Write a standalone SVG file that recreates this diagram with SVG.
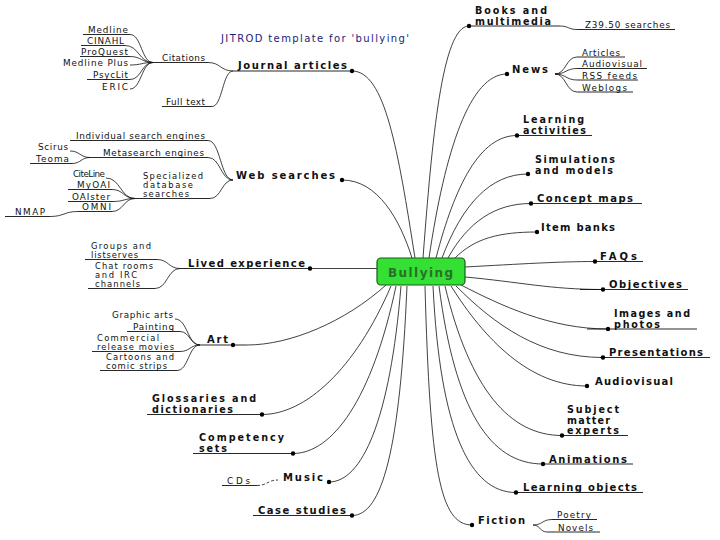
<svg xmlns="http://www.w3.org/2000/svg" width="720" height="540" viewBox="0 0 720 540">
<style>
.b{font-family:"DejaVu Sans","Liberation Sans",sans-serif;font-weight:bold;font-size:10px;fill:#111}
.m{font-family:"DejaVu Sans","Liberation Sans",sans-serif;font-weight:bold;font-size:9.6px;fill:#111}
.s{font-family:"DejaVu Sans","Liberation Sans",sans-serif;font-size:8.8px;fill:#111}
.n{font-family:"DejaVu Sans","Liberation Sans",sans-serif;font-size:8.4px;fill:#111}
.t{font-family:"DejaVu Sans","Liberation Sans",sans-serif;font-size:10px;fill:#22227a}
.u{stroke:#111;stroke-width:0.9;fill:none}
.c{stroke:#111;stroke-width:0.8;fill:none}
.d{fill:#000}
</style>
<rect width="720" height="540" fill="#fff"/>
<text class="t" x="221" y="42" textLength="188" lengthAdjust="spacing">JITROD template for 'bullying'</text>

<g id="connectors">
<path class="c" d="M415,258 C398,150 385,71 352,71"/>
<path class="c" d="M412,258 C400,220 378,180 342,180"/>
<path class="c" d="M423,258 C432,140 442,26 469,26"/>
<path class="c" d="M429,258 C445,150 470,74 507,74"/>
<path class="c" d="M436,258 C455,185 480,135.5 517,135.5"/>
<path class="c" d="M442,258 C462,205 490,174 528,174"/>
<path class="c" d="M448,258 C468,222 495,203.5 531,203.5"/>
<path class="c" d="M455,258 C475,238 500,232 537,232"/>
<path class="c" d="M465,267 C520,264 560,261.5 595,261.5"/>
<path class="c" d="M465,277 C520,282 550,289.5 603,289.5"/>
<path class="c" d="M461,285 C500,305 550,329 608,329"/>
<path class="c" d="M456,286 C495,325 540,357.5 603,357.5"/>
<path class="c" d="M451,286 C485,340 530,386 587,386"/>
<path class="c" d="M445,286 C470,390 510,435.5 562,435.5"/>
<path class="c" d="M439,286 C455,410 490,464 543,464"/>
<path class="c" d="M433,286 C440,430 470,492.5 516,492.5"/>
<path class="c" d="M425,286 C430,470 440,525 472,525"/>
<path class="c" d="M407,286 C400,450 382,515.5 352,515.5"/>
<path class="c" d="M401,286 C390,420 362,482 329,482"/>
<path class="c" d="M396,286 C372,400 332,453.5 293,453.5"/>
<path class="c" d="M391,286 C355,370 305,414.5 262,414.5"/>
<path class="c" d="M386,285 C345,322 290,345 247,345"/>
<path class="c" d="M310,268.5 L377,268.5"/>
<path class="c" d="M130,34.5 C141.5,34.5 141.5,62.5 153,62.5"/>
<path class="c" d="M125,45.5 C139,45.5 139,62.5 153,62.5"/>
<path class="c" d="M130,56.5 C141.5,56.5 141.5,62.5 153,62.5"/>
<path class="c" d="M130,65 C141.5,65 141.5,62.5 153,62.5"/>
<path class="c" d="M130,79.5 C141.5,79.5 141.5,62.5 153,62.5"/>
<path class="c" d="M130,89 C141.5,89 141.5,62.5 153,62.5"/>
<path class="c" d="M208,62.5 C220.5,62.5 220.5,71 233,71"/>
<path class="c" d="M212,106.5 C222.5,106.5 222.5,71 233,71"/>
<path class="c" d="M208,140.5 C220.5,140.5 220.5,180 233,180"/>
<path class="c" d="M208,157.5 C220.5,157.5 220.5,180 233,180"/>
<path class="c" d="M210,198.5 C221.5,198.5 221.5,180 233,180"/>
<path class="c" d="M70,151 C80,151 80,157.5 90,157.5"/>
<path class="c" d="M72,163.5 C81,163.5 81,157.5 90,157.5"/>
<path class="c" d="M106,178 C120.5,178 120.5,198.5 135,198.5"/>
<path class="c" d="M112,189.5 C123.5,189.5 123.5,198.5 135,198.5"/>
<path class="c" d="M113,201.5 C124,201.5 124,198.5 135,198.5"/>
<path class="c" d="M112,211.5 C123.5,211.5 123.5,198.5 135,198.5"/>
<path class="c" d="M50,216.5 C64,216.5 64,211.5 78,211.5"/>
<path class="c" d="M157,259.5 C168.5,259.5 168.5,268.5 180,268.5"/>
<path class="c" d="M155,288.5 C167.5,288.5 167.5,268.5 180,268.5"/>
<path class="c" d="M175,319 C187.5,319 187.5,345 200,345"/>
<path class="c" d="M180,331.5 C190,331.5 190,345 200,345"/>
<path class="c" d="M180,351.5 C190,351.5 190,345 200,345"/>
<path class="c" d="M177,370.5 C188.5,370.5 188.5,345 200,345"/>
<path class="c" d="M257,485.5 C267.5,485.5 267.5,480 278,480" stroke-dasharray="3,2"/>
<path class="c" d="M560,26 C568.5,26 568.5,29.5 577,29.5"/>
<path class="c" d="M555,74 C566,74 566,57 577,57"/>
<path class="c" d="M555,74 C566,74 566,68.5 577,68.5"/>
<path class="c" d="M555,74 C566,74 566,80 577,80"/>
<path class="c" d="M555,74 C566,74 566,92 577,92"/>
<path class="c" d="M533,525 C542.5,525 542.5,519.5 552,519.5"/>
<path class="c" d="M533,525 C540,525 540,532 547,532"/>
</g>

<g id="bullying">
<rect x="377" y="258" width="88" height="27" rx="4" fill="#33e033" stroke="#1c5a1c" stroke-width="1.2"/>
<text x="388" y="276.5" textLength="65" lengthAdjust="spacing" style="font-family:'DejaVu Sans','Liberation Sans',sans-serif;font-weight:bold;font-size:12px;fill:#2a6f2a">Bullying</text>
</g>

<g id="journal-articles">
<line class="u" x1="233" y1="71" x2="352" y2="71"/><circle class="d" cx="352" cy="71" r="2.2"/>
<text class="b" x="238" y="69" textLength="109" lengthAdjust="spacing">Journal articles</text>
</g>
<g id="citations">
<line class="u" x1="153" y1="62.5" x2="208" y2="62.5"/>
<text class="s" x="162" y="61" textLength="43" lengthAdjust="spacing">Citations</text>
</g>
<g id="full-text">
<line class="u" x1="162" y1="106.5" x2="212" y2="106.5"/>
<text class="s" x="166" y="105" textLength="39" lengthAdjust="spacing">Full text</text>
</g>
<g id="medline"><line class="u" x1="83" y1="34.5" x2="130" y2="34.5"/><text class="s" x="88" y="33" textLength="40" lengthAdjust="spacing">Medline</text></g>
<g id="cinahl"><line class="u" x1="81" y1="45.5" x2="125" y2="45.5"/><text class="s" x="87" y="44" textLength="37" lengthAdjust="spacing">CINAHL</text></g>
<g id="proquest"><line class="u" x1="80" y1="56.5" x2="130" y2="56.5"/><text class="s" x="81" y="55" textLength="47" lengthAdjust="spacing">ProQuest</text></g>
<g id="medline-plus"><text class="s" x="63" y="66" textLength="65" lengthAdjust="spacing">Medline Plus</text></g>
<g id="psyclit"><line class="u" x1="87" y1="79.5" x2="130" y2="79.5"/><text class="s" x="93" y="78" textLength="35" lengthAdjust="spacing">PsycLit</text></g>
<g id="eric"><text class="s" x="102" y="90" textLength="26" lengthAdjust="spacing">ERIC</text></g>

<g id="web-searches">
<circle class="d" cx="342" cy="180" r="2.2"/>
<text class="b" x="236" y="179" textLength="99" lengthAdjust="spacing">Web searches</text>
</g>
<g id="individual"><line class="u" x1="70" y1="140.5" x2="208" y2="140.5"/><text class="s" x="76" y="139" textLength="129" lengthAdjust="spacing">Individual search engines</text></g>
<g id="metasearch"><line class="u" x1="90" y1="157.5" x2="208" y2="157.5"/><text class="s" x="103" y="156" textLength="101" lengthAdjust="spacing">Metasearch engines</text></g>
<g id="scirus"><text class="s" x="38" y="150" textLength="30" lengthAdjust="spacing">Scirus</text></g>
<g id="teoma"><line class="u" x1="30" y1="163.5" x2="72" y2="163.5"/><text class="s" x="36" y="162" textLength="33" lengthAdjust="spacing">Teoma</text></g>
<g id="specialized">
<line class="u" x1="135" y1="198.5" x2="210" y2="198.5"/>
<text class="n" x="143" y="178.5" textLength="60" lengthAdjust="spacing">Specialized</text>
<text class="n" x="143" y="187.5" textLength="50" lengthAdjust="spacing">database</text>
<text class="n" x="143" y="196.5" textLength="46" lengthAdjust="spacing">searches</text>
</g>
<g id="citeline"><text class="s" x="73" y="177" textLength="32" lengthAdjust="spacing">CiteLine</text></g>
<g id="myoai"><line class="u" x1="68" y1="189.5" x2="112" y2="189.5"/><text class="s" x="77" y="188" textLength="33" lengthAdjust="spacing">MyOAI</text></g>
<g id="oaister"><line class="u" x1="68" y1="201.5" x2="113" y2="201.5"/><text class="s" x="72" y="200" textLength="38" lengthAdjust="spacing">OAIster</text></g>
<g id="omni"><line class="u" x1="78" y1="211.5" x2="112" y2="211.5"/><text class="s" x="82" y="210" textLength="29" lengthAdjust="spacing">OMNI</text></g>
<g id="nmap"><line class="u" x1="5" y1="216.5" x2="50" y2="216.5"/><text class="s" x="15" y="215" textLength="30" lengthAdjust="spacing">NMAP</text></g>

<g id="lived-experience">
<line class="u" x1="180" y1="268.5" x2="310" y2="268.5"/><circle class="d" cx="310" cy="268.5" r="2.2"/>
<text class="b" x="188" y="267" textLength="117" lengthAdjust="spacing">Lived experience</text>
</g>
<g id="groups"><line class="u" x1="85" y1="259.5" x2="157" y2="259.5"/>
<text class="n" x="91" y="249" textLength="60" lengthAdjust="spacing">Groups and</text>
<text class="n" x="91" y="258" textLength="47" lengthAdjust="spacing">listserves</text></g>
<g id="chat"><line class="u" x1="88" y1="288.5" x2="155" y2="288.5"/>
<text class="n" x="95" y="269" textLength="58" lengthAdjust="spacing">Chat rooms</text>
<text class="n" x="95" y="278" textLength="42" lengthAdjust="spacing">and IRC</text>
<text class="n" x="95" y="287" textLength="45" lengthAdjust="spacing">channels</text></g>

<g id="art">
<line class="u" x1="200" y1="345" x2="247" y2="345"/><circle class="d" cx="233" cy="345" r="2.2"/>
<text class="b" x="207" y="343" textLength="21" lengthAdjust="spacing">Art</text>
</g>
<g id="graphic-arts"><text class="s" x="112" y="318" textLength="61" lengthAdjust="spacing">Graphic arts</text></g>
<g id="painting"><line class="u" x1="127" y1="331.5" x2="180" y2="331.5"/><text class="s" x="133" y="330" textLength="41" lengthAdjust="spacing">Painting</text></g>
<g id="commercial"><line class="u" x1="92" y1="351.5" x2="180" y2="351.5"/>
<text class="n" x="97" y="340.5" textLength="62" lengthAdjust="spacing">Commercial</text>
<text class="n" x="97" y="349.5" textLength="77" lengthAdjust="spacing">release movies</text></g>
<g id="cartoons"><line class="u" x1="100" y1="370.5" x2="177" y2="370.5"/>
<text class="n" x="106" y="360" textLength="68" lengthAdjust="spacing">Cartoons and</text>
<text class="n" x="106" y="369" textLength="61" lengthAdjust="spacing">comic strips</text></g>

<g id="glossaries">
<line class="u" x1="147" y1="414.5" x2="262" y2="414.5"/><circle class="d" cx="262" cy="414.5" r="2.2"/>
<text class="m" x="152" y="402" textLength="104" lengthAdjust="spacing">Glossaries and</text>
<text class="m" x="152" y="413" textLength="81" lengthAdjust="spacing">dictionaries</text>
</g>
<g id="competency">
<line class="u" x1="193" y1="453.5" x2="293" y2="453.5"/><circle class="d" cx="293" cy="453.5" r="2.2"/>
<text class="m" x="199" y="441" textLength="85" lengthAdjust="spacing">Competency</text>
<text class="m" x="199" y="452" textLength="28" lengthAdjust="spacing">sets</text>
</g>
<g id="music">
<circle class="d" cx="329" cy="482" r="2.2"/>
<text class="b" x="283" y="481" textLength="40" lengthAdjust="spacing">Music</text>
</g>
<g id="cds"><line class="u" x1="222" y1="485.5" x2="257" y2="485.5"/><text class="s" x="227" y="484" textLength="23" lengthAdjust="spacing">CDs</text></g>
<g id="case-studies">
<line class="u" x1="253" y1="515.5" x2="352" y2="515.5"/><circle class="d" cx="352" cy="515.5" r="2.2"/>
<text class="b" x="258" y="514" textLength="88" lengthAdjust="spacing">Case studies</text>
</g>

<g id="books">
<line class="u" x1="469" y1="26" x2="560" y2="26"/><circle class="d" cx="469" cy="26" r="2.2"/>
<text class="m" x="475" y="13.5" textLength="72" lengthAdjust="spacing">Books and</text>
<text class="m" x="475" y="24.5" textLength="76" lengthAdjust="spacing">multimedia</text>
</g>
<g id="z3950"><line class="u" x1="577" y1="29.5" x2="675" y2="29.5"/><text class="s" x="585" y="28" textLength="85" lengthAdjust="spacing">Z39.50 searches</text></g>
<g id="news">
<circle class="d" cx="507" cy="74" r="2.2"/>
<text class="b" x="512" y="73" textLength="36" lengthAdjust="spacing">News</text>
</g>
<g id="articles"><line class="u" x1="577" y1="57" x2="625" y2="57"/><text class="s" x="582" y="55.5" textLength="38" lengthAdjust="spacing">Articles</text></g>
<g id="audiovisual-news"><line class="u" x1="577" y1="68.5" x2="647" y2="68.5"/><text class="s" x="582" y="67" textLength="60" lengthAdjust="spacing">Audiovisual</text></g>
<g id="rss"><line class="u" x1="577" y1="80" x2="638" y2="80"/><text class="s" x="582" y="78.5" textLength="55" lengthAdjust="spacing">RSS feeds</text></g>
<g id="weblogs"><line class="u" x1="577" y1="92" x2="633" y2="92"/><text class="s" x="582" y="90.5" textLength="45" lengthAdjust="spacing">Weblogs</text></g>

<g id="learning-activities">
<line class="u" x1="517" y1="135.5" x2="592" y2="135.5"/><circle class="d" cx="517" cy="135.5" r="2.2"/>
<text class="m" x="523" y="123" textLength="61" lengthAdjust="spacing">Learning</text>
<text class="m" x="523" y="134" textLength="63" lengthAdjust="spacing">activities</text>
</g>
<g id="simulations">
<circle class="d" cx="528" cy="174" r="2.2"/>
<text class="m" x="535" y="162.5" textLength="80" lengthAdjust="spacing">Simulations</text>
<text class="m" x="535" y="173.5" textLength="78" lengthAdjust="spacing">and models</text>
</g>
<g id="concept-maps">
<line class="u" x1="531" y1="203.5" x2="642" y2="203.5"/><circle class="d" cx="531" cy="203.5" r="2.2"/>
<text class="b" x="537" y="202" textLength="96" lengthAdjust="spacing">Concept maps</text>
</g>
<g id="item-banks">
<circle class="d" cx="537" cy="232" r="2.2"/>
<text class="b" x="541" y="231" textLength="74" lengthAdjust="spacing">Item banks</text>
</g>
<g id="faqs">
<line class="u" x1="595" y1="261.5" x2="643" y2="261.5"/><circle class="d" cx="595" cy="261.5" r="2.2"/>
<text class="b" x="600" y="260" textLength="37" lengthAdjust="spacing">FAQs</text>
</g>
<g id="objectives">
<line class="u" x1="580" y1="289.5" x2="688" y2="289.5"/><circle class="d" cx="603" cy="289.5" r="2.2"/>
<text class="b" x="609" y="288" textLength="73" lengthAdjust="spacing">Objectives</text>
</g>
<g id="images">
<line class="u" x1="587" y1="329" x2="697" y2="329"/><circle class="d" cx="608" cy="329" r="2.2"/>
<text class="m" x="614" y="316.5" textLength="76" lengthAdjust="spacing">Images and</text>
<text class="m" x="614" y="327.5" textLength="46" lengthAdjust="spacing">photos</text>
</g>
<g id="presentations">
<line class="u" x1="600" y1="357.5" x2="710" y2="357.5"/><circle class="d" cx="603" cy="357.5" r="2.2"/>
<text class="b" x="609" y="356" textLength="94" lengthAdjust="spacing">Presentations</text>
</g>
<g id="audiovisual">
<circle class="d" cx="587" cy="386" r="2.2"/>
<text class="b" x="595" y="385" textLength="78" lengthAdjust="spacing">Audiovisual</text>
</g>
<g id="subject-matter-experts">
<line class="u" x1="562" y1="435.5" x2="628" y2="435.5"/><circle class="d" cx="562" cy="435.5" r="2.2"/>
<text class="m" x="567" y="412.5" textLength="52" lengthAdjust="spacing">Subject</text>
<text class="m" x="567" y="423.5" textLength="43" lengthAdjust="spacing">matter</text>
<text class="m" x="567" y="434" textLength="52" lengthAdjust="spacing">experts</text>
</g>
<g id="animations">
<line class="u" x1="543" y1="464" x2="633" y2="464"/><circle class="d" cx="543" cy="464" r="2.2"/>
<text class="b" x="549" y="462.5" textLength="78" lengthAdjust="spacing">Animations</text>
</g>
<g id="learning-objects">
<line class="u" x1="516" y1="492.5" x2="643" y2="492.5"/><circle class="d" cx="516" cy="492.5" r="2.2"/>
<text class="b" x="523" y="491" textLength="114" lengthAdjust="spacing">Learning objects</text>
</g>
<g id="fiction">
<circle class="d" cx="472" cy="525" r="2.2"/>
<text class="b" x="478" y="524" textLength="47" lengthAdjust="spacing">Fiction</text>
</g>
<g id="poetry"><line class="u" x1="552" y1="519.5" x2="597" y2="519.5"/><text class="s" x="557" y="518" textLength="34" lengthAdjust="spacing">Poetry</text></g>
<g id="novels"><line class="u" x1="547" y1="532" x2="600" y2="532"/><text class="s" x="558" y="530.5" textLength="35" lengthAdjust="spacing">Novels</text></g>
</svg>
